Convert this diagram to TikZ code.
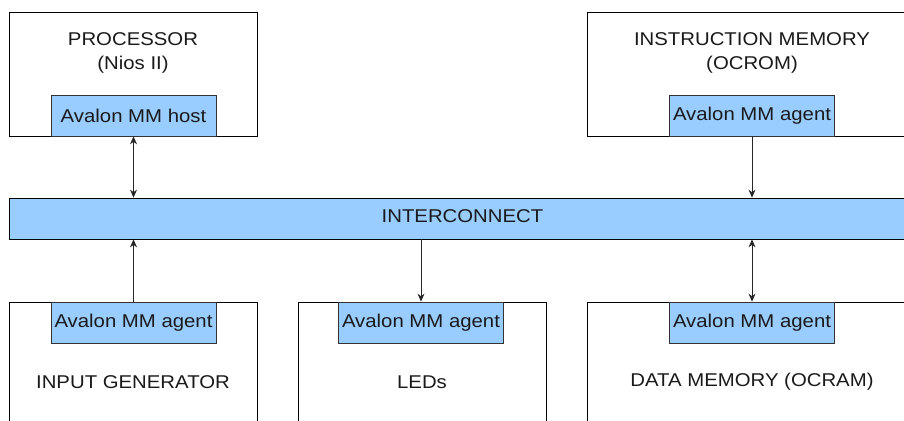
\documentclass[tikz,border=0pt]{standalone}
\usepackage{fontspec}
\setmainfont[FakeStretch=1.1]{Liberation Sans}
\usetikzlibrary{arrows.meta}
\definecolor{portblue}{HTML}{99CCFF}
\definecolor{txt}{HTML}{1A1A1A}
\begin{document}
\begin{tikzpicture}[x=1pt,y=-1pt,
  block/.style={draw=black,line width=0.8pt,fill=white,inner sep=0pt,rectangle},
  port/.style={draw=black!80,line width=0.8pt,fill=portblue,inner sep=0pt,rectangle,
    minimum width=165pt,minimum height=41pt,text=txt,font=\fontsize{18.5}{20}\selectfont},
  lbl/.style={text=txt,font=\fontsize{18.5}{20}\selectfont,inner sep=0pt},
  link/.style={line width=0.8pt,draw=black!85},
  tip/.style={-{Stealth[length=8pt,width=7pt]}},
  tips/.style={{Stealth[length=8pt,width=7pt]}-{Stealth[length=8pt,width=7pt]}}]
\useasboundingbox (0,0) rectangle (904,420);
\clip (0,0) rectangle (904,420);

% top row
\node[block,minimum width=248pt,minimum height=124pt] (proc) at (133,74) {};
\node[lbl] (proct) at (133,39) {PROCESSOR};
\node[lbl] (procs) at (133,65) {(Nios II)};
\node[port] (procp) at (133.5,115.5) {Avalon MM host};

\node[block,minimum width=330pt,minimum height=124pt] (imem) at (752,74) {};
\node[lbl] (imemt) at (752,39) {INSTRUCTION MEMORY};
\node[lbl] (imems) at (752,65) {(OCROM)};
\node[port] (imemp) at (752,115.5) {Avalon MM agent};

% bus
\node[block,fill=portblue,minimum width=907pt,minimum height=41pt] (ic) at (462.5,218.5) {};
\node[lbl] (ict) at (462.5,216) {INTERCONNECT};

% bottom row
\node[block,minimum width=248pt,minimum height=124pt] (ing) at (133,364) {};
\node[port] (ingp) at (133.5,322.5) {Avalon MM agent};
\node[lbl] (ingt) at (133,382) {INPUT GENERATOR};

\node[block,minimum width=248pt,minimum height=124pt] (led) at (422,364) {};
\node[port] (ledp) at (421,322.5) {Avalon MM agent};
\node[lbl] (ledt) at (422,382) {LEDs};

\node[block,minimum width=330pt,minimum height=124pt] (dmem) at (752,364) {};
\node[port] (dmemp) at (752,322.5) {Avalon MM agent};
\node[lbl] (dmemt) at (752,382) {DATA MEMORY (OCRAM)};

% connections
\draw[link,tips] (procp.south) -- (procp.south |- ic.north);
\draw[link,tip] (imemp.south) -- (imemp.south |- ic.north);
\draw[link,tip] (ingp.north) -- (ingp.north |- ic.south);
\draw[link,tip] (ledp.north |- ic.south) -- (ledp.north);
\draw[link,tips] (dmemp.north |- ic.south) -- (dmemp.north);
\end{tikzpicture}
\end{document}
